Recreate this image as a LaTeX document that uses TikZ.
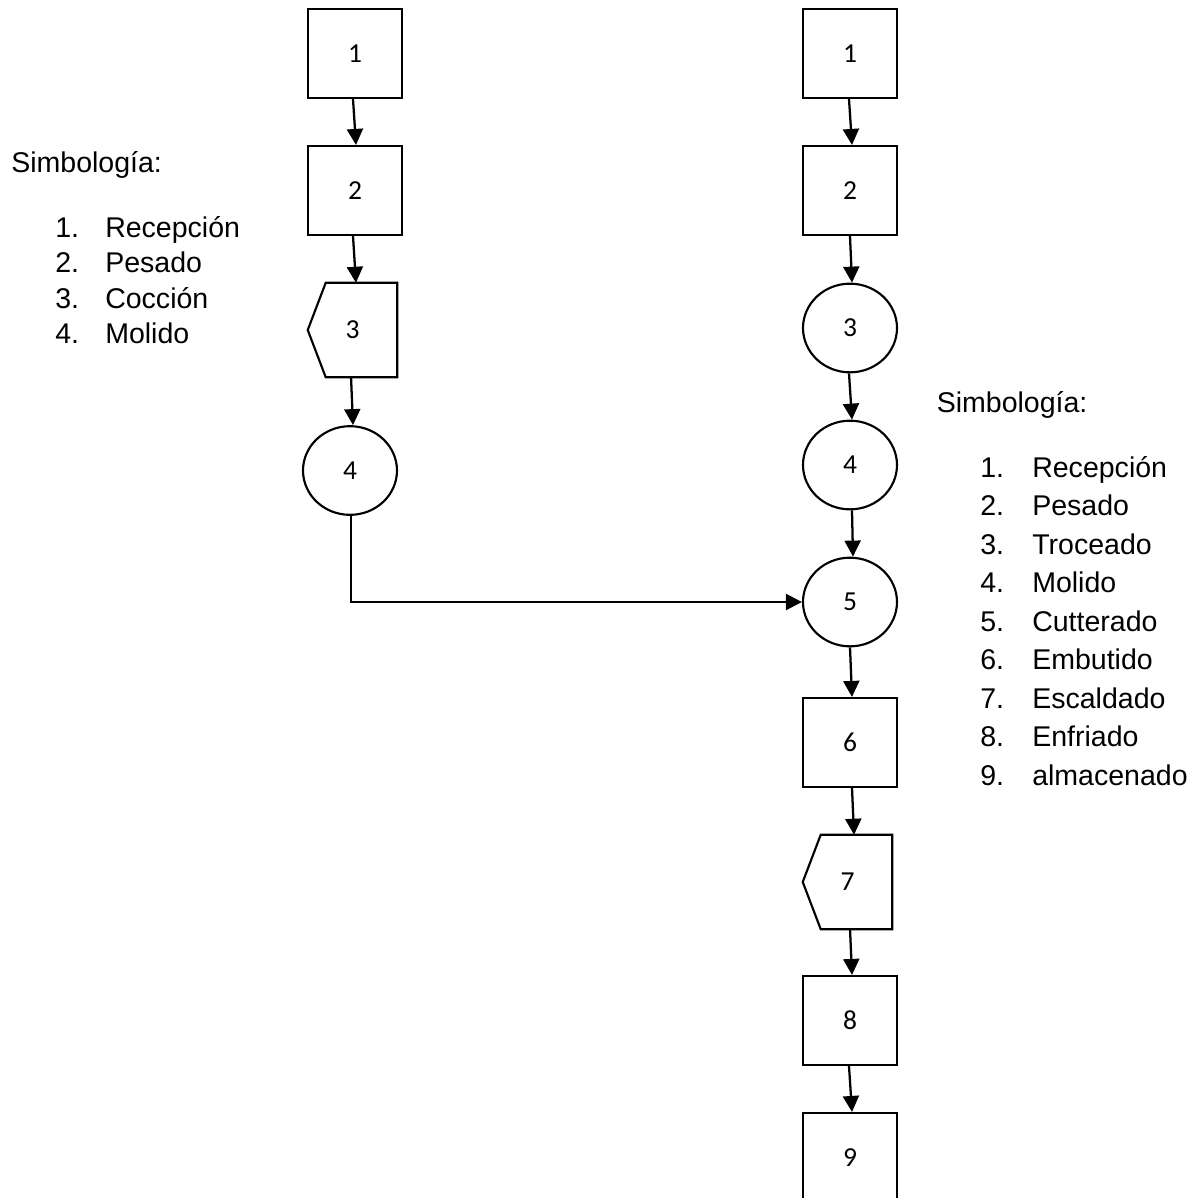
\documentclass[tikz,border=0pt]{standalone}
\usepackage{fontspec}
\setmainfont{Liberation Sans}
\newfontfamily\stepfont{Carlito}
\usetikzlibrary{shapes.geometric,arrows.meta,calc}
\begin{document}
\begin{tikzpicture}[x=0.75pt,y=-0.75pt,
  stepnum/.style={font=\stepfont\fontsize{20.6}{24}\selectfont},
  box/.style={stepnum,draw,line width=1.6pt,minimum width=70.5pt,minimum height=66.75pt,inner sep=0pt},
  oper/.style={stepnum,ellipse,draw,line width=1.6pt,minimum width=70.5pt,minimum height=66.5pt,inner sep=0pt},
  delay/.style={stepnum,minimum width=66.75pt,minimum height=70.5pt,inner sep=0pt},
  delayline/.style={line width=1.6pt,line join=miter},
  flow/.style={line width=1.7pt,-{Triangle[length=12pt,width=12pt]}},
  legend/.style={anchor=base west,inner sep=0pt,font=\fontsize{21.4}{25}\selectfont}
]
\useasboundingbox (0,0) rectangle (1204,1197);

% ---- left process column ----
\node[box]   (L1) at (355,53.5)  {1};
\node[box]   (L2) at (355,190.5) {2};
\node[delay] (L3) at (352.5,330) {3};
\node[oper]  (L4) at (350,470.5) {4};
\draw[delayline] ($(L3.north west)+(18,0)$) -- (L3.north east) -- (L3.south east)
  -- ($(L3.south west)+(18,0)$) -- (L3.west) -- cycle;

% ---- right process column ----
\node[box]   (R1) at (850,53.5)   {1};
\node[box]   (R2) at (850,190.5)  {2};
\node[oper]  (R3) at (850,328)    {3};
\node[oper]  (R4) at (850,465)    {4};
\node[oper]  (R5) at (850,602)    {5};
\node[box]   (R6) at (850,742.5)  {6};
\node[delay] (R7) at (847.5,882)  {7};
\node[box]   (R8) at (850,1020.5) {8};
\node[box]   (R9) at (850,1157.5) {9};
\draw[delayline] ($(R7.north west)+(18,0)$) -- (R7.north east) -- (R7.south east)
  -- ($(R7.south west)+(18,0)$) -- (R7.west) -- cycle;

% ---- connectors ----
\draw[flow] ([xshift=-1.5pt]L1.south) -- ([xshift=0.75pt]L2.north);
\draw[flow] ([xshift=-1.5pt]L2.south) -- ([xshift=2.6pt]L3.north);
\draw[flow] ([xshift=-1.1pt]L3.south) -- ([xshift=2.25pt]L4.north);
\draw[flow] ([xshift=0.75pt]L4.south) |- (R5.west);

\draw[flow] ([xshift=-0.75pt]R1.south) -- ([xshift=1.5pt]R2.north);
\draw[flow] (R2.south) -- ([xshift=1.5pt]R3.north);
\draw[flow] ([xshift=-0.75pt]R3.south) -- ([xshift=1.5pt]R4.north);
\draw[flow] ([xshift=1.5pt]R4.south) -- ([xshift=2.25pt]R5.north);
\draw[flow] (R5.south) -- ([xshift=1.5pt]R6.north);
\draw[flow] ([xshift=1.5pt]R6.south) -- ([xshift=4.9pt]R7.north);
\draw[flow] ([xshift=1.9pt]R7.south) -- ([xshift=1.5pt]R8.north);
\draw[flow] ([xshift=-0.75pt]R8.south) -- ([xshift=1.5pt]R9.north);

% ---- legends ----
\node[legend] (LT) at (11,172) {Simbología:};
\foreach \n/\t [count=\i] in {1/Recepción,2/Pesado,3/Cocción,4/Molido}{
  \node[legend] (LN\i) at (55,{237+35.5*(\i-1)}) {\n.};
  \node[legend] (LX\i) at (105,{237+35.5*(\i-1)}) {\t};
}
\node[legend] (RT) at (936.5,412) {Simbología:};
\foreach \n/\t [count=\i] in {1/Recepción,2/Pesado,3/Troceado,4/Molido,5/Cutterado,
    6/Embutido,7/Escaldado,8/Enfriado,9/almacenado}{
  \node[legend] (RN\i) at (980,{477+38.5*(\i-1)}) {\n.};
  \node[legend] (RX\i) at (1032,{477+38.5*(\i-1)}) {\t};
}
\end{tikzpicture}
\end{document}
